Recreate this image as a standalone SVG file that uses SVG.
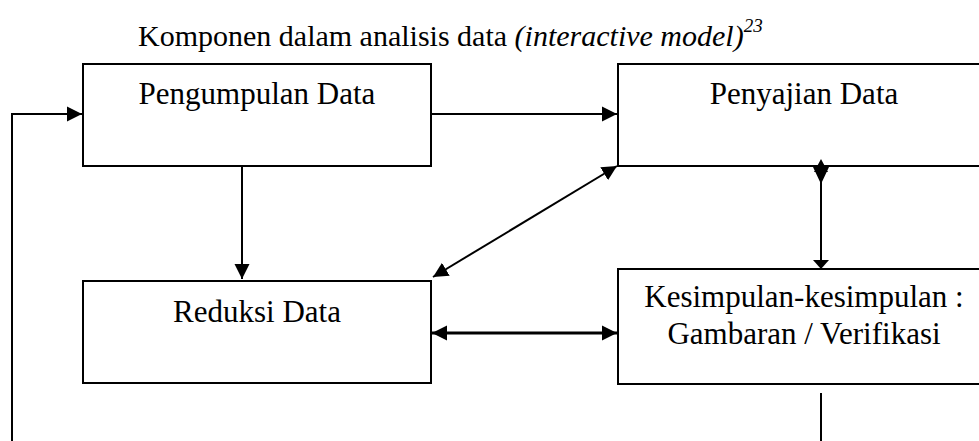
<svg xmlns="http://www.w3.org/2000/svg" width="979" height="441" viewBox="0 0 979 441">
<style>
.box{fill:#fff;stroke:#000;stroke-width:2}
.lbl{font-family:"Liberation Serif","Times New Roman",serif;font-size:31px;fill:#000;text-anchor:middle}
.title{font-family:"Liberation Serif","Times New Roman",serif;font-size:30px;fill:#000}
.c{fill:none;stroke:#000;stroke-width:2}
.thick{stroke-width:3}
</style>
<defs>
<marker id="ah" markerUnits="userSpaceOnUse" markerWidth="16" markerHeight="16" viewBox="0 0 16 16" refX="15" refY="8" orient="auto-start-reverse">
<path d="M0,0.5 L15,8 L0,15.5 Z" fill="#000"/>
</marker>
</defs>
<rect width="979" height="441" fill="#fff"/>
<g id="title">
<text class="title" x="138" y="46">Komponen dalam analisis data <tspan font-style="italic">(interactive model)</tspan><tspan font-style="italic" font-size="19" dy="-14">23</tspan></text>
</g>
<g id="pengumpulan">
<rect class="box" x="83" y="64" width="348" height="102"/>
<text class="lbl" x="257" y="104">Pengumpulan Data</text>
</g>
<g id="penyajian">
<rect class="box" x="618" y="64" width="372" height="102"/>
<text class="lbl" x="804" y="104">Penyajian Data</text>
</g>
<g id="reduksi">
<rect class="box" x="83" y="281" width="348" height="102"/>
<text class="lbl" x="257" y="322">Reduksi Data</text>
</g>
<g id="kesimpulan">
<rect class="box" x="618" y="269" width="372" height="115"/>
<text class="lbl" x="804" y="307">Kesimpulan-kesimpulan :</text>
<text class="lbl" x="804" y="344">Gambaran / Verifikasi</text>
</g>
<g id="connectors">
<polyline class="c" points="12,441 12,114 82,114" marker-end="url(#ah)"/>
<line class="c" x1="431" y1="114" x2="617" y2="114" marker-end="url(#ah)"/>
<line class="c" x1="242" y1="167" x2="242" y2="279" marker-end="url(#ah)"/>
<line class="c" x1="433" y1="277" x2="617" y2="166" marker-start="url(#ah)" marker-end="url(#ah)"/>
<line class="c thick" x1="432" y1="333" x2="617" y2="333" marker-start="url(#ah)" marker-end="url(#ah)"/>
<line class="c" x1="821" y1="167" x2="821" y2="268"/>
<path d="M821,159 L828,172 L814,172 Z M813,167 L829,167 L821,184 Z" fill="#000"/>
<path d="M813,260 L829,260 L821,269 Z" fill="#000"/>
<line class="c" x1="821" y1="393" x2="821" y2="441"/>
</g>
</svg>
